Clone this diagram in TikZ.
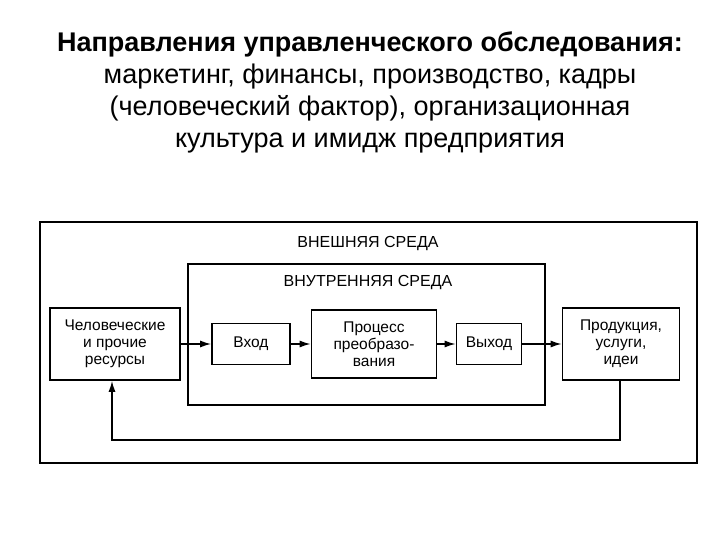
\documentclass[tikz,border=0pt]{standalone}
\usepackage{fontspec}
\setmainfont{Liberation Sans}
\usetikzlibrary{arrows.meta}
\begin{document}
\begin{tikzpicture}[x=1pt,y=-1pt,
  box/.style={draw,line width=1.6pt,align=center,font=\fontsize{15.5}{17}\selectfont,inner sep=0pt},
  arr/.style={-{Latex[length=11pt,width=7pt]},line width=1.5pt},
  lbl/.style={font=\fontsize{16}{18}\selectfont}]
\useasboundingbox (0,0) rectangle (720,540);
\node[font=\fontsize{27}{32}\selectfont,align=center] (title) at (370,92)
 {\textbf{Направления управленческого обследования:}\\маркетинг, финансы, производство, кадры\\(человеческий фактор), организационная\\культура и имидж предприятия};
\draw[line width=1.6pt] (40,222) rectangle (697,463);
\node[lbl] (ext) at (368,244) {ВНЕШНЯЯ СРЕДА};
\draw[line width=1.6pt] (188,264) rectangle (545,405);
\node[lbl] (int) at (368,283) {ВНУТРЕННЯЯ СРЕДА};
\node[box,minimum width=130pt,minimum height=72pt] (res) at (115,344) {Человеческие\\и прочие\\ресурсы};
\node[box,minimum width=78pt,minimum height=41pt] (in) at (251,344) {Вход};
\node[box,minimum width=125pt,minimum height=68pt] (proc) at (374,344) {Процесс\\преобразо-\\вания};
\node[box,minimum width=65pt,minimum height=41pt] (out) at (489,344) {Выход};
\node[box,minimum width=117pt,minimum height=72pt] (prod) at (621,344) {Продукция,\\услуги,\\идеи};
\draw[arr] (res) -- (in);
\draw[arr] (in) -- (proc);
\draw[arr] (proc) -- (out);
\draw[arr] (out) -- (prod);
\coordinate (c1) at (620,440);
\coordinate (c2) at (112,440);
\draw[arr] (prod.south -| c1) -- (c1) -- (c2) -- (res.south -| c2);
\end{tikzpicture}
\end{document}
